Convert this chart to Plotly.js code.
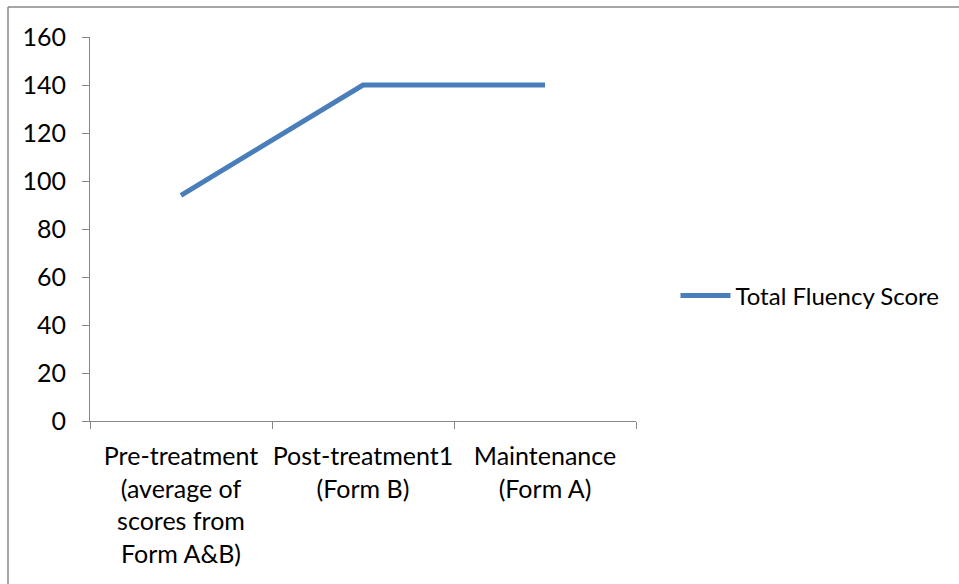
<!DOCTYPE html>
<html>
<head>
<meta charset="utf-8">
<script src="https://cdn.plot.ly/plotly-3.0.1.min.js"></script>
<style>
  html, body { margin: 0; padding: 0; background: #fff; }
  #chart { width: 959px; height: 584px; }
</style>
</head>
<body>
<div id="chart"></div>
<script>
const categories = [
  "Pre-treatment<br>(average of<br>scores from<br>Form A&B)",
  "Post-treatment1<br>(Form B)",
  "Maintenance<br>(Form A)"
];
const fluencyScores = [94, 140, 140];
const seriesName = "Total Fluency Score";
const yTickValues = [0, 20, 40, 60, 80, 100, 120, 140, 160];

const FONT = "Lato, 'Liberation Sans', sans-serif";
const AXIS_GREY = "#868686";

const trace = {
  type: "scatter",
  mode: "lines",
  x: categories,
  y: fluencyScores,
  name: seriesName,
  line: { color: "#4A7EBB", width: 5 },
  showlegend: true
};

const layout = {
  width: 959,
  height: 584,
  margin: { l: 90, r: 323, t: 37, b: 163 },
  paper_bgcolor: "#ffffff",
  plot_bgcolor: "#ffffff",
  font: { family: FONT, size: 25, color: "#000000" },
  showlegend: true,
  legend: {
    x: 1.0723, y: 0.3255, xanchor: "left", yanchor: "middle",
    itemwidth: 50,
    font: { family: FONT, size: 24, color: "#000000" },
    bgcolor: "rgba(0,0,0,0)"
  },
  xaxis: {
    type: "category",
    range: [-0.5, 2.5],
    tickson: "boundaries",
    ticks: "outside",
    ticklen: 7,
    tickwidth: 1,
    tickcolor: AXIS_GREY,
    showline: true,
    linecolor: AXIS_GREY,
    linewidth: 1,
    showgrid: false,
    zeroline: false,
    tickangle: 0,
    ticklabelstandoff: 13,
    automargin: false,
    fixedrange: true
  },
  yaxis: {
    range: [0, 160],
    tickmode: "array",
    tickvals: yTickValues,
    ticktext: yTickValues.map(String),
    ticks: "outside",
    ticklen: 7,
    tickwidth: 1,
    tickcolor: AXIS_GREY,
    showline: true,
    linecolor: AXIS_GREY,
    linewidth: 1,
    showgrid: false,
    zeroline: false,
    ticklabelstandoff: 11,
    automargin: false,
    fixedrange: true
  },
  shapes: [
    { type: "line", xref: "paper", yref: "paper",
      x0: (8 - 90) / 546, x1: (962 - 90) / 546,
      y0: (421 - 7) / 384, y1: (421 - 7) / 384,
      line: { color: "#888888", width: 1.5 } },
    { type: "line", xref: "paper", yref: "paper",
      x0: (8 - 90) / 546, x1: (8 - 90) / 546,
      y0: (421 - 7) / 384, y1: (421 - 590) / 384,
      line: { color: "#888888", width: 1.5 } }
  ]
};

Plotly.newPlot("chart", [trace], layout, { staticPlot: true, displayModeBar: false });
</script>
</body>
</html>
